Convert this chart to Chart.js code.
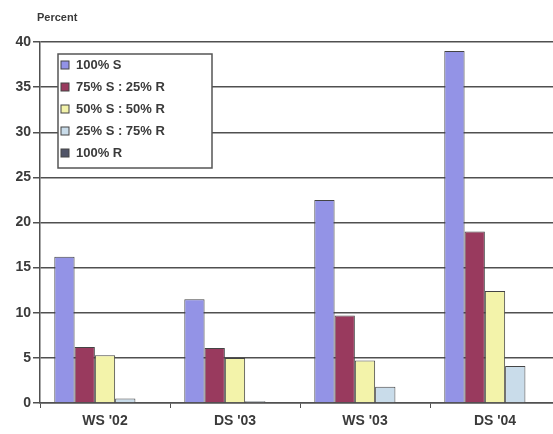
<!DOCTYPE html>
<html>
<head>
<meta charset="utf-8">
<script src="https://cdn.jsdelivr.net/npm/chart.js@4/dist/chart.umd.min.js"></script>
<style>
  html, body { margin: 0; padding: 0; background: #fff; overflow: hidden; }
  #wrap { width: 562px; height: 434px; }
</style>
</head>
<body>
<div id="wrap"><canvas id="chart" width="562" height="434"></canvas></div>
<script>
// Data
const seasons = ["WS '02", "DS '03", "WS '03", "DS '04"];
const seriesNames = ['100% S', '75% S : 25% R', '50% S : 50% R', '25% S : 75% R', '100% R'];
const s100 = [16.2, 11.5, 22.5, 39.0];
const s75r25 = [6.2, 6.1, 9.7, 19.0];
const s50r50 = [5.3, 5.0, 4.7, 12.4];
const s25r75 = [0.5, 0.2, 1.8, 4.1];
const r100 = [0, 0, 0, 0];
const yTicks = [0, 5, 10, 15, 20, 25, 30, 35, 40];

const fills = ['#9393e6', '#993a5e', '#f3f3aa', '#c9dcea', '#505468'];
const seriesData = [s100, s75r25, s50r50, s25r75, r100];

const inkColor = '#3a3a3a';
const gridColor = '#505050';
const fontFam = '"Liberation Sans", Arial, sans-serif';

// legend box drawn over the plot, like the original
const boxLegend = {
    id: 'boxLegend',
    afterDraw(chart) {
        const ctx = chart.ctx;
        const x = 58, y = 54, w = 154, h = 114;
        ctx.save();
        ctx.fillStyle = '#fff';
        ctx.fillRect(x, y, w, h);
        ctx.strokeStyle = '#555';
        ctx.lineWidth = 1.5;
        ctx.strokeRect(x, y, w, h);
        ctx.font = 'bold 13px ' + fontFam;
        ctx.textBaseline = 'middle';
        chart.data.datasets.forEach((ds, i) => {
            const cy = 65 + i * 22;
            ctx.fillStyle = ds.backgroundColor;
            ctx.fillRect(61, cy - 4, 8, 8);
            ctx.strokeStyle = '#444';
            ctx.lineWidth = 1;
            ctx.strokeRect(61, cy - 4, 8, 8);
            ctx.fillStyle = inkColor;
            ctx.fillText(ds.label, 76, cy);
        });
        ctx.restore();
    }
};

// "Percent" label above the y axis
const axisLabel = {
    id: 'axisLabel',
    afterDraw(chart) {
        const ctx = chart.ctx;
        ctx.save();
        ctx.font = 'bold 11px ' + fontFam;
        ctx.fillStyle = inkColor;
        ctx.textBaseline = 'middle';
        ctx.fillText('Percent', 37, 18);
        ctx.restore();
    }
};

new Chart(document.getElementById('chart'), {
    type: 'bar',
    data: {
        labels: seasons,
        datasets: seriesNames.map((name, i) => ({
            label: name,
            data: seriesData[i],
            backgroundColor: fills[i],
            borderColor: '#444',
            borderWidth: 1,
            barPercentage: 1.0,
            categoryPercentage: 0.78
        }))
    },
    options: {
        responsive: false,
        animation: false,
        layout: { padding: { left: 0, right: 2, top: 42, bottom: 0 } },
        plugins: {
            legend: { display: false },
            tooltip: { enabled: false }
        },
        scales: {
            x: {
                afterFit: s => { s.height = 31; },
                grid: {
                    display: true,
                    offset: true,
                    drawOnChartArea: false,
                    tickLength: 5,
                    color: gridColor
                },
                border: { color: gridColor, width: 1.5 },
                ticks: {
                    color: inkColor,
                    padding: 5,
                    font: { family: fontFam, size: 14, weight: 'bold' }
                }
            },
            y: {
                min: 0,
                max: 40,
                afterFit: s => { s.width = 40; },
                afterBuildTicks: s => { s.ticks = yTicks.map(v => ({ value: v })); },
                grid: {
                    color: gridColor,
                    lineWidth: 1.5,
                    tickLength: 7
                },
                border: { color: gridColor, width: 1.5 },
                ticks: {
                    color: inkColor,
                    padding: 2,
                    font: { family: fontFam, size: 14, weight: 'bold' }
                }
            }
        }
    },
    plugins: [boxLegend, axisLabel]
});
</script>
</body>
</html>
